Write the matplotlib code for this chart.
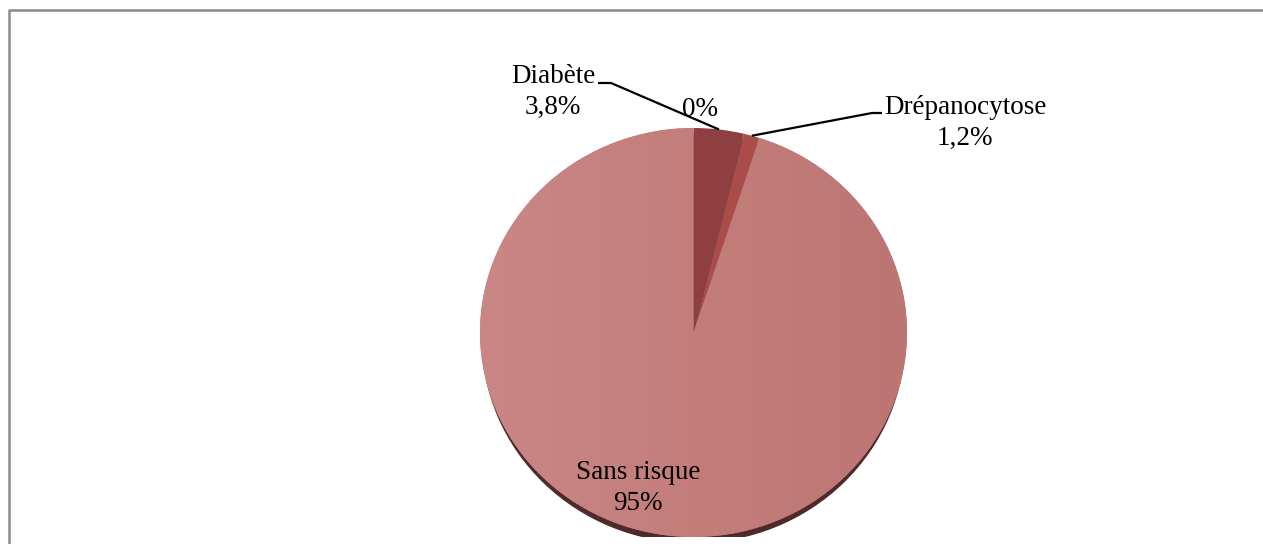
import numpy as np
import matplotlib
matplotlib.use('Agg')
from matplotlib import pyplot as plt
from matplotlib.colors import LinearSegmentedColormap
from matplotlib.patches import Ellipse

# data
categories = ['', 'Diabète', 'Drépanocytose', 'Sans risque']
values = [0, 3.8, 1.2, 95]
pct_labels = ['0%', '3,8%', '1,2%', '95%']
colors = ['#8E3F3F', '#8E3F3F', '#AA4D4A', '#C47D7B']

plt.rcParams['font.family'] = ['Liberation Serif', 'DejaVu Serif']

W, H = 1263, 544
fig = plt.figure(figsize=(W / 100, H / 100), dpi=100)

# overlay axes in pixel coordinates (border, labels, leader lines)
ov = fig.add_axes([0, 0, 1, 1], zorder=3)
ov.set_xlim(0, W)
ov.set_ylim(H, 0)
ov.axis('off')
ov.patch.set_alpha(0)

# pie axes, slightly flattened like the 3D pie in the original
cx, cy, rx, ry = 693.5, 332.5, 213.5, 204.5
ax = fig.add_axes([(cx - rx) / W, 1 - (cy + ry) / H, 2 * rx / W, 2 * ry / H], zorder=1)
wedges, _ = ax.pie(values, colors=colors, startangle=90, counterclock=False,
                   radius=1, wedgeprops=dict(linewidth=0))
ax.set_aspect('auto')
ax.axis('off')

# depth / shadow under the pie
shadow = Ellipse((0, -0.03), 1.985, 2, facecolor='#4F2A2A', linewidth=0, zorder=0)
ax.add_patch(shadow)

# soft horizontal gradient on the big slice
cmap = LinearSegmentedColormap.from_list('g', ['#CA8785', '#C37E7C', '#BC7573'])
grad = np.linspace(0, 1, 256).reshape(1, -1)
im = ax.imshow(grad, extent=(-1, 1, -1, 1), cmap=cmap, aspect='auto', zorder=2)
im.set_clip_path(wedges[3])
ax.set_xlim(-1, 1)
ax.set_ylim(-1, 1)


def edge_point(w):
    # point on the pie rim at the wedge mid angle, in pixel coords
    a = np.deg2rad((w.theta1 + w.theta2) / 2)
    return cx + rx * np.cos(a), cy - ry * np.sin(a)


fs = 19.5
ls = 1.35
lc = 'black'

# Diabète
x0, y0 = edge_point(wedges[1])
ov.plot([598, 611, x0], [83, 83, y0], color=lc, lw=1.6, solid_capstyle='butt')
ov.text(553, 92, categories[1] + '\n' + pct_labels[1], ha='center', va='center',
        fontsize=fs, linespacing=ls)

# zero slice
ov.text(700, 110, pct_labels[0], ha='center', va='center', fontsize=fs)

# Drépanocytose
x0, y0 = edge_point(wedges[2])
ov.plot([x0, 872, 882], [y0, 113, 113], color=lc, lw=1.6, solid_capstyle='butt')
ov.text(965, 123, categories[2] + '\n' + pct_labels[2], ha='center', va='center',
        fontsize=fs, linespacing=ls)

# Sans risque
ov.text(638, 488, categories[3] + '\n' + pct_labels[3], ha='center', va='center',
        fontsize=fs, linespacing=ls, zorder=4)

# chart border (only top and left edges are inside the picture)
ov.plot([9, 9, W + 5], [H + 5, 10, 10], color='#8C8C8C', lw=1.8, clip_on=False)

plt.savefig('out.png', dpi=100)
